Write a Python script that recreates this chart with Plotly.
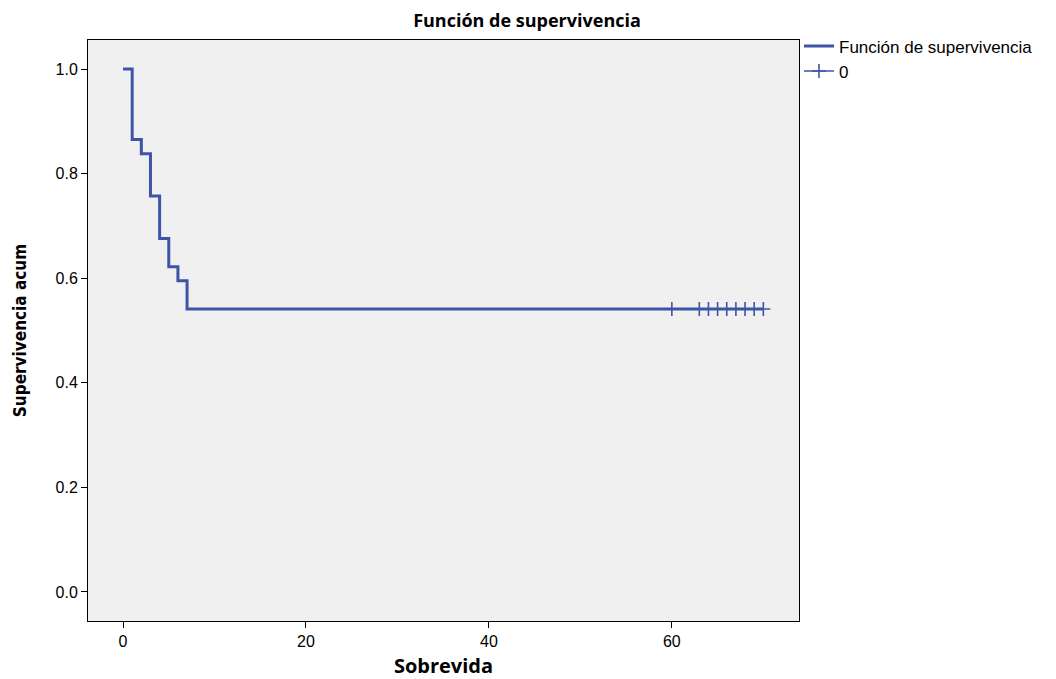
import plotly.graph_objects as go

# Kaplan-Meier step data
times = [0, 1, 2, 3, 4, 5, 6, 7, 70]
surv = [1.0, 0.865, 0.838, 0.757, 0.676, 0.622, 0.595, 0.541, 0.541]
# censored observations
cens_times = [60, 63, 64, 65, 66, 67, 68, 69, 70]
cens_surv = [0.541] * len(cens_times)

x_ticks = [0, 20, 40, 60]
y_ticks = [0.0, 0.2, 0.4, 0.6, 0.8, 1.0]
y_tick_text = ["0.0", "0.2", "0.4", "0.6", "0.8", "1.0"]

color = "#3e54a6"
W, H = 1048, 671

fig = go.Figure()
fig.add_trace(go.Scatter(
    x=times, y=surv, mode="lines", line=dict(shape="hv", color=color, width=3),
    name="Función de supervivencia"))
fig.add_trace(go.Scatter(
    x=cens_times, y=cens_surv, mode="lines+markers",
    line=dict(color=color, width=1.5),
    marker=dict(symbol="cross-thin-open", size=10, line=dict(color=color, width=1.6)),
    name="0"))

fig.update_layout(
    width=W, height=H,
    margin=dict(l=80, r=257, t=32, b=58, autoexpand=False),
    paper_bgcolor="white", plot_bgcolor="#f0f0f0",
    title=dict(text="<b>Función de supervivencia</b>", x=(527 - 8) / W, xanchor="center",
               y=1 - 13 / H, yanchor="middle",
               font=dict(family="Open Sans", size=18, color="black")),
    font=dict(family="Liberation Sans, Arial", size=16, color="black"),
    legend=dict(x=1.0, xanchor="left", y=1.02, yanchor="top",
                font=dict(size=17, family="Liberation Sans, Arial"),
                bgcolor="rgba(0,0,0,0)", itemwidth=30, tracegroupgap=0),
    showlegend=True,
)
fig.update_xaxes(
    range=[-3.83, 73.9], tickvals=x_ticks, showgrid=False, zeroline=False,
    ticks="outside", ticklen=6, tickcolor="black", showline=True, linecolor="black",
    linewidth=1, mirror=True,
    title=dict(text="<b>Sobrevida</b>", font=dict(size=20, family="Open Sans"),
               standoff=20),
    tickfont=dict(size=16),
)
fig.update_yaxes(
    range=[-0.0555, 1.0555], tickvals=y_ticks, ticktext=y_tick_text, showgrid=False,
    zeroline=False, ticks="outside", ticklen=6, tickcolor="black", showline=True,
    linecolor="black", linewidth=1, mirror=True,
    title=dict(text="<b>Supervivencia acum</b>",
               font=dict(size=17, family="Liberation Sans Narrow, DejaVu Sans Condensed, Liberation Sans"),
               standoff=24),
    tickfont=dict(size=16),
)

fig.write_html("out.html")
